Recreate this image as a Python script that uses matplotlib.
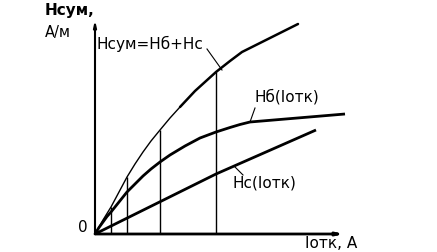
import matplotlib
matplotlib.use("Agg")
import matplotlib.pyplot as plt

# Current (arbitrary units) and field strengths (arbitrary units)
hb_x = [0, 4, 8, 12, 16, 24, 32, 40, 48, 56, 65, 75, 90, 105, 121, 135, 145, 155, 250]
hb_y = [0, 6.5, 12, 17.5, 22, 32, 42, 50, 58, 65, 72, 79, 88, 96, 102, 106.5, 109.5, 112, 120]

hc_x = [0, 121, 221]
hc_y = [0, 60, 104]

hsum_x_thin = [0, 4, 8, 12, 16, 24, 32, 40, 48, 56, 65, 75, 85]
hsum_y_thin = [0, 7, 14, 20.5, 27, 42, 57, 70, 82, 93, 104, 116, 127]
hsum_x_thick = [85, 100, 121, 135, 147, 175, 203]
hsum_y_thick = [127, 143, 162, 173, 182, 196, 210]

# vertical construction lines: (x, top)
vlines_x = [16, 32, 65, 121]
vlines_top = [27, 57, 104, 162]

label_sum = "Нсум=Нб+Нс"
label_hb = "Нб(Іотк)"
label_hc = "Нс(Іотк)"
ylabel1 = "Нсум,"
ylabel2 = "А/м"
xlabel = "Іотк, А"

fig = plt.figure(figsize=(4.37, 2.52), dpi=100)
ax = fig.add_axes([0, 0, 1, 1])
ax.set_xlim(-95, 342)
ax.set_ylim(-18, 234)
ax.axis("off")

# axes with arrows
ax.annotate("", xy=(249, 0), xytext=(0, 0),
            arrowprops=dict(arrowstyle="-|>,head_length=0.35,head_width=0.08",
                            lw=2.0, color="black", shrinkA=0, shrinkB=0))
ax.annotate("", xy=(0, 214), xytext=(0, 0),
            arrowprops=dict(arrowstyle="-|>,head_length=0.35,head_width=0.08",
                            lw=1.5, color="black", shrinkA=0, shrinkB=0))

ax.plot(hb_x, hb_y, color="black", lw=2.0, solid_capstyle="butt")
ax.plot(hc_x, hc_y, color="black", lw=2.0, solid_capstyle="butt")
ax.plot(hsum_x_thin, hsum_y_thin, color="black", lw=1.0)
ax.plot(hsum_x_thick, hsum_y_thick, color="black", lw=1.8, solid_capstyle="round")
ax.vlines(vlines_x, 0, vlines_top, color="black", lw=1.0)

fs = 11
ax.text(-50, 224, ylabel1, fontsize=fs, fontweight="bold", ha="left", va="center")
ax.text(-50, 202, ylabel2, fontsize=10.5, ha="left", va="center")
ax.text(2, 190, label_sum, fontsize=fs, ha="left", va="center")
ax.plot([112, 127], [185, 164], color="black", lw=0.8)
ax.text(160, 137, label_hb, fontsize=fs, ha="left", va="center")
ax.plot([160, 155], [126, 112], color="black", lw=0.8)
ax.text(137, 51, label_hc, fontsize=fs, ha="left", va="center")
ax.plot([140, 148], [67, 59], color="black", lw=0.8)
ax.text(-12, 6, "0", fontsize=fs, ha="center", va="center")
ax.text(210, -9.5, xlabel, fontsize=fs, ha="left", va="center")

fig.savefig("out.png", dpi=100)
